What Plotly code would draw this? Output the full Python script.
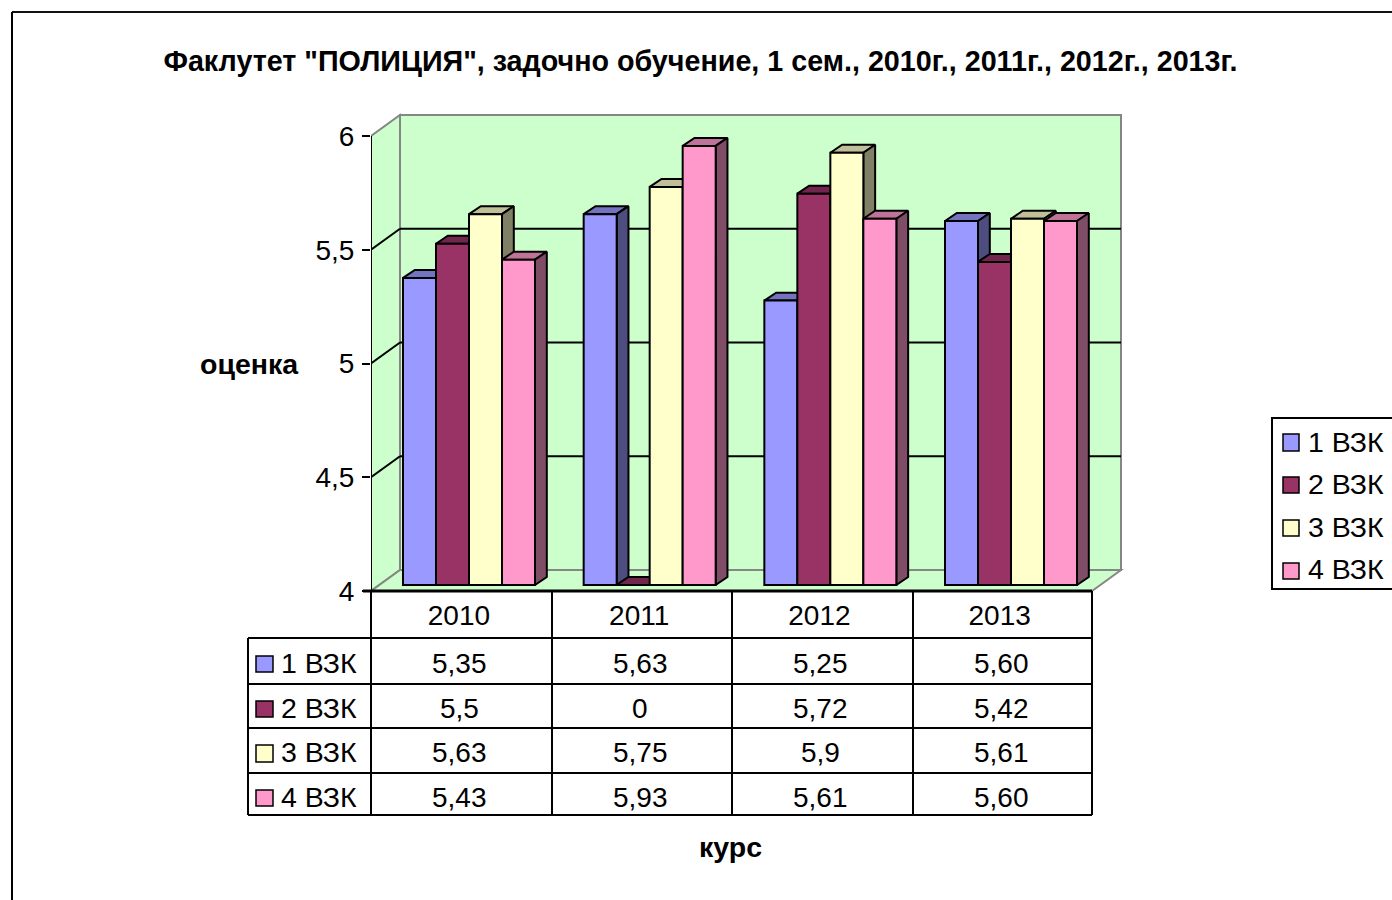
import plotly.graph_objects as go

years = ["2010", "2011", "2012", "2013"]
series_names = ["1 ВЗК", "2 ВЗК", "3 ВЗК", "4 ВЗК"]
v1 = [5.35, 5.63, 5.25, 5.60]
v2 = [5.5, 0, 5.72, 5.42]
v3 = [5.63, 5.75, 5.9, 5.61]
v4 = [5.43, 5.93, 5.61, 5.60]
t1 = ["5,35", "5,63", "5,25", "5,60"]
t2 = ["5,5", "0", "5,72", "5,42"]
t3 = ["5,63", "5,75", "5,9", "5,61"]
t4 = ["5,43", "5,93", "5,61", "5,60"]
y_ticks = [4, 4.5, 5, 5.5, 6]
y_labels = ["4", "4,5", "5", "5,5", "6"]
title_text = 'Факлутет "ПОЛИЦИЯ", задочно обучение, 1 сем., 2010г., 2011г., 2012г., 2013г.'
y_title = "оценка"
x_title = "курс"

front = ["#9999FF", "#993366", "#FFFFCC", "#FF99CC"]
top = ["#7373BF", "#73264D", "#BFBF99", "#BF7399"]
side = ["#4D4D80", "#7A2952", "#808066", "#804D66"]
series = [v1, v2, v3, v4]
texts = [t1, t2, t3, t4]

W, H = 1392, 900
FONT = "Liberation Sans, Arial, sans-serif"
# plot scale (pixels per data unit)
SX, SY = 180.25, 227.5
X0_PX, Y0_PX, XEND_PX, YMAX = 371, 591, 1124, 6.1
x_lo, x_hi = -0.5, -0.5 + (XEND_PX - X0_PX) / SX
ytop_px = Y0_PX - (YMAX - 4) * SY

# depth offsets, data units
wall_dx, wall_dy = 29 / SX, 21 / SY
bar_dx, bar_dy = 11.8 / SX, 8 / SY
floor_dy = 6 / SY
bar_w = 33 / SX
group_start = (403 - 371) / SX
group_pitch = 180.67 / SX
base = 4 + floor_dy

px = lambda x: x / W
py = lambda y: 1 - y / H

fig = go.Figure()

for s, (vals, name) in enumerate(zip(series, series_names)):
    xs = [-0.5 + group_start + i * group_pitch + (s + 0.5) * bar_w for i in range(4)]
    heights = [max(v, 4) - 4 for v in vals]
    fig.add_trace(go.Bar(
        x=xs, y=heights, base=base, width=bar_w, name=name,
        marker=dict(color=front[s], line=dict(color="#000", width=2)),
        zorder=2 * s + 1, showlegend=False, hoverinfo="skip"))
    for x, h in zip(xs, heights):
        xl, xr = x - bar_w / 2, x + bar_w / 2
        yt = base + h
        fig.add_trace(go.Scatter(
            x=[xl, xl + bar_dx, xr + bar_dx, xr, xl],
            y=[yt, yt + bar_dy, yt + bar_dy, yt, yt],
            mode="lines", fill="toself", fillcolor=top[s],
            line=dict(color="#000", width=2), zorder=2 * s,
            showlegend=False, hoverinfo="skip"))
        fig.add_trace(go.Scatter(
            x=[xr, xr + bar_dx, xr + bar_dx, xr, xr],
            y=[yt, yt + bar_dy, base + bar_dy, base, yt],
            mode="lines", fill="toself", fillcolor=side[s],
            line=dict(color="#000", width=2), zorder=2 * s,
            showlegend=False, hoverinfo="skip"))

shapes = []
annotations = []


def poly(points, fill, color, width, layer="below"):
    path = "M " + " L ".join(f"{a},{b}" for a, b in points) + " Z"
    shapes.append(dict(type="path", path=path, xref="x", yref="y", fillcolor=fill,
                       line=dict(color=color, width=width), layer=layer))


def dline(x0, y0, x1, y1, color="#000", width=2):
    shapes.append(dict(type="line", xref="x", yref="y", x0=x0, y0=y0, x1=x1, y1=y1,
                       line=dict(color=color, width=width), layer="below"))


def pline(x0, y0, x1, y1, color="#000", width=2):
    shapes.append(dict(type="line", xref="paper", yref="paper", x0=px(x0), y0=py(y0),
                       x1=px(x1), y1=py(y1), line=dict(color=color, width=width), layer="above"))


def swatch(x0, y0, x1, y1, color):
    shapes.append(dict(type="rect", xref="paper", yref="paper", x0=px(x0), y0=py(y0),
                       x1=px(x1), y1=py(y1), fillcolor=color,
                       line=dict(color="#000", width=1.5), layer="above"))


def label(x, y, text, anchor="center", size=28, bold=False):
    annotations.append(dict(xref="paper", yref="paper", x=px(x), y=py(y), text=f"<b>{text}</b>" if bold else text,
                            showarrow=False, xanchor=anchor, yanchor="middle",
                            font=dict(family=FONT, size=size, color="#000")))


xb = x_lo + 4  # front right edge of floor
# walls and floor
poly([(x_lo + wall_dx, 4 + wall_dy), (x_lo + wall_dx, 6 + wall_dy), (xb + wall_dx, 6 + wall_dy), (xb + wall_dx, 4 + wall_dy)],
     "#CCFFCC", "#868686", 2)
poly([(x_lo, 4), (x_lo + wall_dx, 4 + wall_dy), (x_lo + wall_dx, 6 + wall_dy), (x_lo, 6)],
     "#CCFFCC", "#868686", 2)
poly([(x_lo, 4), (x_lo + wall_dx, 4 + wall_dy), (xb + wall_dx, 4 + wall_dy), (xb, 4)],
     "#CCFFCC", "#868686", 2)
# gridlines
for t in y_ticks[1:-1]:
    dline(x_lo, t, x_lo + wall_dx, t + wall_dy)
    dline(x_lo + wall_dx, t + wall_dy, xb + wall_dx, t + wall_dy)
dline(x_lo, 4, x_lo, 6, "#000", 2)

# outer chart frame
pline(12, 12, 1392, 12, "#111", 2)
pline(12, 12, 12, 900, "#000", 2)

# data table
row_lines = [638, 684, 728, 773, 815]
col_lines = [371, 552, 732, 913, 1092]
col_centers = [459.5, 640, 820, 1001]
row_centers = [663, 708, 752, 797]
row_keys = [(656, 672), (701, 717), (745, 762), (790, 806)]
pline(363, 591, 1092, 591, "#000", 3)
for y in row_lines:
    pline(248, y, 1092, y, "#000", 2)
for x in col_lines:
    pline(x, 591, x, 815, "#000", 2)
pline(248, 638, 248, 815, "#000", 2)
for r in range(4):
    swatch(256, row_keys[r][0], 273, row_keys[r][1], front[r])
    label(359, row_centers[r], series_names[r], "right", size=28.5)
    for c in range(4):
        label(col_centers[c], row_centers[r], texts[r][c])

# legend box
shapes.append(dict(type="rect", xref="paper", yref="paper", x0=px(1272), y0=py(418), x1=px(1396), y1=py(589),
                   fillcolor="#fff", line=dict(color="#000", width=2), layer="above"))
leg_keys = [(434, 451), (477, 493), (520, 536), (563, 579)]
leg_centers = [441.5, 484, 527, 569]
for r in range(4):
    swatch(1283, leg_keys[r][0], 1299, leg_keys[r][1], front[r])
    label(1386, leg_centers[r], series_names[r], "right", size=28.5)

label(249, 364, y_title, bold=True, size=28.5)
label(730, 846.5, x_title, bold=True, size=28.5)

fig.update_layout(
    width=W, height=H, margin=dict(l=0, r=0, t=0, b=0),
    paper_bgcolor="#fff", plot_bgcolor="rgba(0,0,0,0)",
    barmode="overlay", showlegend=False,
    font=dict(family=FONT, color="#000"),
    title=dict(text=f"<b>{title_text}</b>", x=700.5 / W, xanchor="center", xref="paper",
               y=py(60.5), yanchor="middle", yref="paper",
               font=dict(family=FONT, size=28.7, color="#000")),
    xaxis=dict(domain=[px(X0_PX), px(XEND_PX)], range=[x_lo, x_hi], showgrid=False, zeroline=False,
               showline=False, tickmode="array", tickvals=[i - 2.2 / SX for i in range(4)], ticktext=years,
               ticks="", tickfont=dict(family=FONT, size=28, color="#000"), ticklabelstandoff=5,
               fixedrange=True, automargin=False),
    yaxis=dict(domain=[py(Y0_PX), py(ytop_px)], range=[4, YMAX], showgrid=False, zeroline=False,
               showline=False, tickmode="array", tickvals=y_ticks, ticktext=y_labels,
               ticks="outside", ticklen=8, tickwidth=2, tickcolor="#000",
               tickfont=dict(family=FONT, size=28, color="#000"), ticklabelstandoff=2,
               fixedrange=True, automargin=False),
    shapes=shapes, annotations=annotations,
)

fig.write_html("out.html", config=dict(displayModeBar=False, responsive=False),
               default_width="1392px", default_height="900px",
               post_script="document.body.style.margin='0';document.documentElement.style.overflow='hidden';")
